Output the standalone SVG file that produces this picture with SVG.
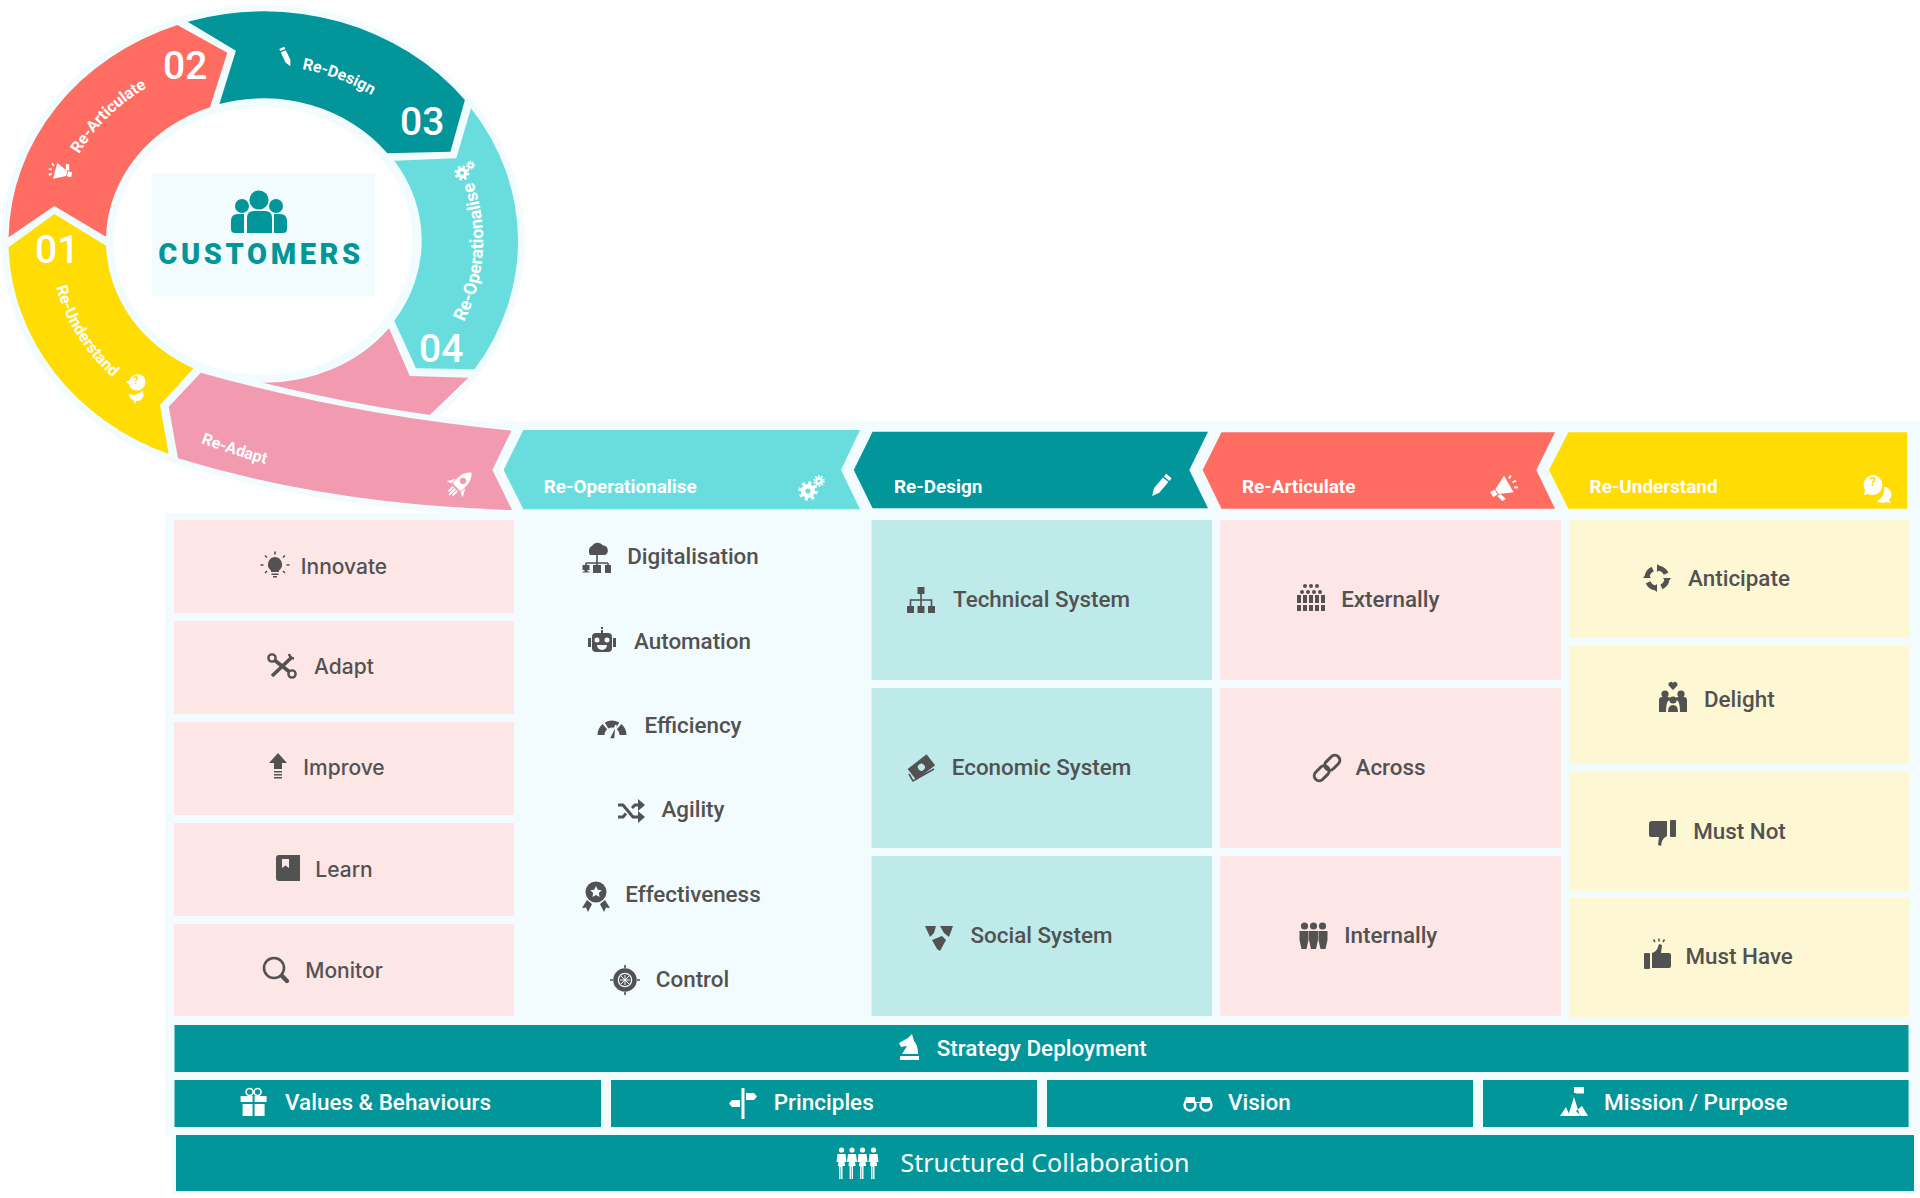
<svg xmlns="http://www.w3.org/2000/svg" xmlns:xlink="http://www.w3.org/1999/xlink" width="1920" height="1198" viewBox="0 0 1920 1198">
<style>
text{font-family:Roboto,"Liberation Sans",sans-serif}
.l{font-size:22.4px;font-weight:500;fill:#525252;text-anchor:middle}
.i{font-family:Inter,Roboto,sans-serif;font-size:21px}
.h{font-size:18.9px;font-weight:700;fill:#fff}
.b{font-size:22.5px;font-weight:500;fill:#fff}
.sc{font-family:"Noto Sans",sans-serif;font-size:25px;fill:#fff}
.r{font-size:16px;font-weight:700;fill:#fff}
.n{font-size:39px;font-weight:500;fill:#fff}
.seg{stroke:#f2fbfd;stroke-width:6;paint-order:stroke;stroke-linejoin:miter}
.pp{fill:#fde6e6}.pt{fill:#bfeaea}.py{fill:#fef7d4}.tb{fill:#02959a}
.d{fill:#525252;color:#525252}.w{fill:#fff;color:#fff}
.s{fill:none;stroke:currentColor}
</style>
<defs>
<g id="i-gear"><circle r="7"/><circle r="2.600" fill="var(--g,#69dddd)"/><circle class="s" r="8" stroke-width="3.400" stroke-dasharray="3 3.280"/><circle cx="11" cy="-10" r="3.800"/><circle class="s" cx="11" cy="-10" r="4.800" stroke-width="1.800" stroke-dasharray="1.600 1.420"/><circle cx="11" cy="-10" r="1.500" fill="var(--g,#69dddd)"/></g>
<g id="i-pencil"><path d="M-3.500-13h7v3.400h-7zM-3.500-8h7V6L0 13l-3.500-7z"/></g>
<g id="i-mega"><path d="M-7-3L7-10V9L-7 3ZM-13-3h5v6h-5zM-9 4h4l2 7h-4z"/><path class="s" stroke-width="2" d="M10-5l3-2M11 0h4M10 5l3 2"/></g>
<g id="i-bub"><path d="M-4-13a10 10 0 1 1-4 19l-4 1 1-5a10 10 0 0 1 7-15z"/><path d="M8-1a7.500 7.500 0 0 1 5 13l2 3-5-1a8 8 0 0 1-9-1 12 12 0 0 0 7-14z"/></g>
<g id="i-rocket"><g transform="rotate(45)"><path fill-rule="evenodd" d="M0-17C6-12 7-5 6 5H-6C-7-5-6-12 0-17ZM0-8a3.400 3.400 0 1 0 .01 0Z"/><path d="M-7-1L-12 8L-7 6ZM7-1L12 8L7 6ZM-4 7h2V14h-2zM-1 7h2V16h-2zM2 7h2V14h-2z"/></g></g>
<g id="i-p"><circle cy="-13" r="2.600"/><path d="M-4-9H4L5-1 3-1 3.600 3H1V16H-.4V4H-1V16H-2.400V3H-3.600L-3-1-5-1Z"/></g>
</defs>
<rect width="1920" height="1198" fill="#fff"/>
<g id="panel" fill="#f2fbfd">
<rect x="505" y="421" width="1415" height="100"/>
<rect x="165" y="513" width="1755" height="622"/>
<rect x="172" y="1132" width="1746" height="62"/>
</g>
<g id="wheel">
<ellipse cx="263" cy="241" rx="261.500" ry="236" fill="#f2fbfd"/>
<ellipse cx="263" cy="241" rx="149.500" ry="134" fill="#fff"/>
<g id="seg-02"><path fill="#ff6c61" d="M177.300 25L227.300 52.700L210 107.300A157 141.700 0 0 0 106 236.700L54.400 206L8.600 237.300A255 229.500 0 0 1 177.300 25Z"/><text class="n" x="163" y="79">02</text></g>
<g id="seg-03"><path class="tb" d="M187.700 21.700A255 229.500 0 0 1 464.900 100L450.400 151.700L387.400 153.300A157 141.700 0 0 0 219.400 104L235.900 50.700Z"/><text class="n" x="400" y="135">03</text></g>
<g id="seg-04"><path fill="#69dddd" d="M471 108.300A255 229.500 0 0 1 474.500 369.300L416 368.300L394.300 320.700A157 141.700 0 0 0 394.300 160.700L456.300 158.300Z"/><text class="n" x="419" y="361.500">04</text></g>
<g id="seg-01"><path fill="#ffdc03" d="M8.600 247.300L54.400 214L106 245.700A157 141.700 0 0 0 193.500 368.300L160 405L168.700 454A255 229.500 0 0 1 8.600 247.300Z"/><text class="n" x="35" y="263">01</text></g>
<path id="seg-pink-inner" fill="#f29ab0" class="seg" d="M389 328.300A157 141.700 0 0 1 261.700 382.700Q344 403 428 416.700L468.300 377.700L409.800 376Z"/>
<path id="seg-band" fill="#f29ab0" stroke="#f2fbfd" stroke-width="12" paint-order="stroke" d="M200.800 372.700Q350 415 511.400 430.700L492.400 470L512 510Q330 505 178 458.300L168.700 406.700Z"/>
<path id="ta" fill="none" d="M79 154A203 183 0 0 1 263 58"/>
<path id="td" fill="none" d="M302 69A195 175.500 0 0 1 458 241"/>
<path id="to" fill="none" d="M464 322A221 199 0 0 0 263 42"/>
<path id="tu" fill="none" d="M56 287A213 192 0 0 0 263 433"/>
<path id="tr" fill="none" d="M201 443Q235 456 290 471"/>
<text class="r"><textPath href="#ta" xlink:href="#ta">Re-Articulate</textPath></text>
<text class="r"><textPath href="#td" xlink:href="#td">Re-Design</textPath></text>
<text class="r" style="font-size:17.800px"><textPath href="#to" xlink:href="#to">Re-Operationalise</textPath></text>
<text class="r"><textPath href="#tu" xlink:href="#tu">Re-Understand</textPath></text>
<text class="r"><textPath href="#tr" xlink:href="#tr">Re-Adapt</textPath></text>
<use href="#i-mega" class="w" transform="translate(61 172) rotate(195) scale(.85)"/>
<use href="#i-pencil" class="w" transform="translate(286 57) rotate(-25) scale(.78)"/>
<use href="#i-gear" class="w" transform="translate(462 173) scale(.78)"/>
<g transform="translate(137 386) rotate(50) scale(.85)"><use href="#i-bub" class="w"/></g><text x="136" y="384" font-size="11" font-weight="700" fill="#ffdc03" text-anchor="middle">?</text>
<use href="#i-rocket" class="w" transform="translate(460 484) scale(.95)"/>
</g>
<g id="customers">
<rect x="152" y="173" width="223" height="123" fill="#f2fbfd"/>
<g class="tb"><circle cx="259" cy="200" r="9.600"/><circle cx="242" cy="206" r="7"/><circle cx="276" cy="206" r="7"/>
<path d="M247 218q0-7 7-7h11q7 0 7 7v15h-25zM244 214v19h-9q-4 0-4-4v-8q0-7 7-7zM274 214v19h9q4 0 4-4v-8q0-7-7-7z"/></g>
<text x="261" y="264" font-size="29" font-weight="900" letter-spacing="3.600" text-anchor="middle" class="tb">CUSTOMERS</text>
</g>
<g id="headers">
<g id="h-op"><path fill="#69dddd" d="M523.400 430H860L841 470L860 509.300H523.400L503.600 470Z"/><text class="h" x="543.700" y="493">Re-Operationalise</text><use href="#i-gear" class="w" transform="translate(808 491)"/></g>
<g id="h-de"><path class="tb" d="M872.600 431.700H1208L1189.300 470L1208 508.300H872.600L853.800 470Z"/><text class="h" x="894" y="493">Re-Design</text><use href="#i-pencil" class="w" transform="translate(1160.500 486) rotate(40) scale(1)"/></g>
<g id="h-ar"><path fill="#ff6c61" d="M1221.500 432.300H1555L1536.300 470L1555 508.700H1221.500L1202.700 470Z"/><text class="h" x="1242" y="493">Re-Articulate</text><use href="#i-mega" class="w" transform="translate(1503 488) rotate(-30)"/></g>
<g id="h-un"><path fill="#ffdc03" d="M1568.400 432.300H1907.200V508.700H1568.400L1549 470Z"/><text class="h" x="1589.600" y="493">Re-Understand</text><g transform="translate(1876 488)"><use href="#i-bub" class="w"/><text x="-3" y="-2" font-size="13" font-weight="700" fill="#ffdc03" text-anchor="middle">?</text></g></g>
</g>
<g id="col-adapt">
<g id="n-innovate"><rect class="pp" x="174" y="520" width="340" height="93"/><g class="d" transform="translate(275 565)"><path d="M0-8a7.500 7.500 0 0 1 4 13.500V7h-8V5.500A7.500 7.500 0 0 1 0-8z"/><path d="M-3.500 8.500h7V10h-7zM-2 11h4v1.600h-4z"/><path class="s" stroke-width="1.600" d="M0-13.500v3M-10-9.500l2 2M10-9.500l-2 2M-14.500 0h3M14.500 0h-3M-10 8l2-2M10 8l-2-2"/></g><text class="l i" x="344" y="573.500">Innovate</text></g>
<g id="n-adapt"><rect class="pp" x="174" y="621" width="340" height="93"/><g class="d" transform="translate(282 666)"><circle class="s" stroke-width="2.400" cx="-10" cy="-8" r="3.600"/><circle class="s" stroke-width="2.400" cx="10" cy="8" r="3.600"/><path class="s" stroke-width="3.600" d="M-7-5.500L7 5.500M9-8L-10 10"/><path class="s" stroke-width="2.600" d="M7-12Q8-8 12-7.500"/></g><text class="l i" x="344" y="674">Adapt</text></g>
<g id="n-improve"><rect class="pp" x="174" y="722" width="340" height="93"/><g class="d" transform="translate(278 766)"><path d="M0-13L9-3H4V3H-4V-3H-9Z"/><path d="M-4 5h8v1.600h-8zM-4 8h8v1.600h-8zM-4 11h8v1.600h-8z"/></g><text class="l i" x="344" y="775">Improve</text></g>
<g id="n-learn"><rect class="pp" x="174" y="823" width="340" height="93"/><g class="d" transform="translate(288 868)"><path d="M-12-10a3 3 0 0 1 3-3H12V13H-9a3 3 0 0 1-3-3z"/><path fill="#fde6e6" d="M-6-9h7V0l-3.500-2.500L-6 0z"/></g><text class="l i" x="344" y="876.500">Learn</text></g>
<g id="n-monitor"><rect class="pp" x="174" y="924" width="340" height="92"/><g class="d" transform="translate(275 970)"><circle class="s" stroke-width="2.600" cx="-1" cy="-2" r="10"/><path class="s" stroke-width="4.400" stroke-linecap="round" d="M7 6L12 11"/></g><text class="l i" x="344" y="977.500">Monitor</text></g>
</g>
<g id="col-oper">
<g id="n-dig"><g class="d" transform="translate(597 557)"><path d="M-8-6a5 5 0 0 1 3-5a6.500 6.500 0 0 1 11-.5a5 5 0 0 1 2 9.500H-7a4.500 4.500 0 0 1-1-4z"/><path class="s" stroke-width="1.600" d="M0-3V6M-11 6H11M-11 6v3M0 6v3M11 6v3"/><path d="M-14.500 8h7v5h-2v1.500h2v1h-7v-1h2v-1.500h-2zM-4 8h8v8H-4zM8 8h6v8H8z"/></g><text class="l" x="693" y="564">Digitalisation</text></g>
<g id="n-auto"><g class="d" transform="translate(602 640)"><rect x="-10" y="-7" width="20" height="19" rx="4"/><path d="M-14-2h3v9h-3zM11-2h3v9h-3zM-1-13h2v2h-2zM-1-10h2v3h-2z"/><g fill="#f2fbfd"><circle cx="-5" cy="0" r="2.500"/><circle cx="5" cy="0" r="2.500"/><path d="M-5 5h10a5 5 0 0 1-10 0z"/></g></g><text class="l" x="692.500" y="648.700">Automation</text></g>
<g id="n-eff"><g class="d" transform="translate(612 727)"><path class="s" stroke-width="7" d="M-11 8A11 11 0 0 1-7.100-.4M-5.500-1.500A11 11 0 0 1 5.500-1.500M7.100-.4A11 11 0 0 1 11 8"/><path stroke="#f2fbfd" stroke-width="1.500" d="M-3 12L4-2L3 12Z"/></g><text class="l" x="693" y="733">Efficiency</text></g>
<g id="n-agi"><g class="d" transform="translate(631 811)"><path class="s" stroke-width="3" d="M-13-6h5L2 6h5M-13 6h5l3-3.500M1-3l3-3h4"/><path d="M7-12l7 6-7 6zM7 0l7 6-7 6z"/></g><text class="l" x="693" y="817">Agility</text></g>
<g id="n-effect"><g class="d" transform="translate(596 896)"><circle cy="-4" r="10.500"/><path fill="#f2fbfd" d="M0-10l1.800 3.700 4 .5-3 2.800.8 4L0-1 -3.600 1-2.800-3-5.800-5.800l4-.5z"/><path d="M-9 4L-14 12l4-.5L-8 16l4-8zM9 4L14 12l-4-.5L8 16 4 8z"/></g><text class="l" x="693" y="902">Effectiveness</text></g>
<g id="n-ctrl"><g class="d" transform="translate(625 980)"><circle class="s" r="9.500" stroke-width="4.500"/><circle r="6" fill="#525252"/><path stroke="#f2fbfd" stroke-width="1" d="M-4-4L4 4M4-4L-4 4M0-5V5M-5 0H5"/><path class="s" stroke-width="1.600" d="M0-15v3M0 15v-3M-15 0h3M15 0h-3"/></g><text class="l" x="692.500" y="986.700">Control</text></g>
</g>
<g id="col-design">
<g id="n-tech"><rect class="pt" x="871.500" y="520" width="340.500" height="160"/><g class="d" transform="translate(921 600)"><path d="M-3.500-13h7v7h-7zM-14 6h7v7h-7zM-3.500 6h7v7h-7zM7 6h7v7H7z"/><path class="s" stroke-width="1.600" d="M0-6V6M-10.500 6V0H10.500V6"/></g><text class="l" x="1041.500" y="606.700">Technical System</text></g>
<g id="n-econ"><rect class="pt" x="871.500" y="688" width="340.500" height="160"/><g class="d" transform="translate(922 768)"><g transform="rotate(-38)"><rect x="-12" y="-8" width="24" height="14"/><circle cy="-1" r="3.500" fill="#bfeaea"/></g><path class="s" stroke-width="1.600" d="M-13 6L-9 13L12 1"/></g><text class="l" x="1041.500" y="774.700">Economic System</text></g>
<g id="n-soc"><rect class="pt" x="871.500" y="856" width="340.500" height="160"/><g class="d" transform="translate(939 937)"><path d="M-14-11H-3L-5-4 -9 0ZM1-11H14L10 0 5-4ZM-7 3L3-1 7 3 1 14-2 12Z"/></g><text class="l" x="1041.500" y="942.700">Social System</text></g>
</g>
<g id="col-artic">
<g id="n-ext"><rect class="pp" x="1220" y="520" width="341" height="160"/><g class="d" transform="translate(1311 598)"><circle cx="-6" cy="-12" r="2"/><circle cx="0" cy="-12" r="2"/><circle cx="6" cy="-12" r="2"/><circle cx="-9" cy="-6" r="2"/><circle cx="-3" cy="-6" r="2"/><circle cx="3" cy="-6" r="2"/><circle cx="9" cy="-6" r="2"/><path d="M-14-3h4v8h-4zM-8-3h4v8h-4zM-2-3h4v8h-4zM4-3h4v8H4zM10-3h4v8h-4zM-14 7h4v6h-4zM-8 7h4v6h-4zM-2 7h4v6h-4zM4 7h4v6H4zM10 7h4v6h-4z"/></g><text class="l" x="1390.300" y="606.700">Externally</text></g>
<g id="n-across"><rect class="pp" x="1220" y="688" width="341" height="160"/><g class="d" transform="translate(1327 768) rotate(-45)"><rect class="s" stroke-width="3" x="-16" y="-5" width="17" height="10" rx="5"/><rect class="s" stroke-width="3" x="-1" y="-5" width="17" height="10" rx="5"/></g><text class="l" x="1390.500" y="774.700">Across</text></g>
<g id="n-int"><rect class="pp" x="1220" y="856" width="341" height="160"/><g class="d" transform="translate(1313.500 936)"><circle cx="-9" cy="-10" r="3.600"/><circle cx="0" cy="-10" r="3.600"/><circle cx="9" cy="-10" r="3.600"/><path d="M-14-5h9v9l-2 9h-5l-2-9zM-4.500-5h9v9l-2 9h-5l-2-9zM5-5h9v9l-2 9H7l-2-9z"/></g><text class="l" x="1390.800" y="942.700">Internally</text></g>
</g>
<g id="col-under">
<g id="n-ant"><rect class="py" x="1569" y="520" width="340" height="118"/><g class="d" transform="translate(1657 578)"><circle class="s" r="10" stroke-width="5" stroke-dasharray="11 4.700"/><path d="M0-14l5 4-5 4zM14 0l-4 5-4-5zM0 14l-5-4 5-4zM-14 0l4-5 4 5z"/></g><text class="l" x="1739" y="586">Anticipate</text></g>
<g id="n-del"><rect class="py" x="1569" y="646" width="340" height="118"/><g class="d" transform="translate(1673 699)"><path d="M0-9L-4-13a2.500 2.500 0 0 1 4-3 2.500 2.500 0 0 1 4 3z"/><circle cx="-8" cy="-5" r="3.600"/><circle cx="8" cy="-5" r="3.600"/><circle cy="1" r="3.600"/><path d="M-14 1q0-3 3-3h6q3 0 2 3l-2 1q-2 3-2 11h-7zM14 1q0-3-3-3H5q-3 0-2 3l2 1q2 3 2 11h7zM-5 13q0-7 5-7t5 7z"/></g><text class="l" x="1739.300" y="707">Delight</text></g>
<g id="n-not"><rect class="py" x="1569" y="772" width="340" height="119"/><g class="d" transform="translate(1663 833)"><path d="M-14-9q0-3 3-3H4V3Q0 5-1 8L-2 13-5 12-4 4H-12q-2 0-2-2z"/><rect x="7" y="-13" width="6" height="17" rx="1"/></g><text class="l" x="1739.500" y="839">Must Not</text></g>
<g id="n-have"><rect class="py" x="1569" y="898" width="340" height="119"/><g class="d" transform="translate(1657 954)"><path d="M-5-1Q0-3 1-7L2-10 5-9 4-1H12q2 0 2 2V12q0 2-2 2H-5z"/><rect x="-13" y="-1" width="6" height="16" rx="1"/><path class="s" stroke-width="1.500" d="M2-12.500v-3M-2-12l-1.500-2.500M6-12l1.500-2.500"/></g><text class="l" x="1739.200" y="963.700">Must Have</text></g>
</g>
<g id="foundations">
<g id="n-strategy"><rect class="tb" x="174.500" y="1025" width="1734" height="47"/><g class="w" transform="translate(909 1047)"><path d="M-9 13H10V9H-9ZM-7 7H9Q9-2 5-6L3-13-1-9-10-4-8 0-2-1-7 7Z"/></g><text class="b" x="936.700" y="1056">Strategy Deployment</text></g>
<g id="n-values"><rect class="tb" x="174.500" y="1080" width="426.500" height="47"/><g class="w" transform="translate(253.600 1102)"><path d="M-13-6H-1V0H-13ZM1-6H13V0H1ZM-11 2H-1V14H-11ZM1 2H11V14H1Z"/><circle class="s" stroke-width="1.600" cx="-4" cy="-10" r="3.500"/><circle class="s" stroke-width="1.600" cx="4" cy="-10" r="3.500"/></g><text class="b" x="285" y="1110">Values &amp; Behaviours</text></g>
<g id="n-principles"><rect class="tb" x="611" y="1080" width="426" height="47"/><g class="w" transform="translate(743 1103)"><path d="M-1.500-15H1.500V16H-1.500ZM3-10H11L14-6.500 11-3H3ZM-3-3H-11L-14 .5-11 4H-3Z"/></g><text class="b" x="773.700" y="1110">Principles</text></g>
<g id="n-vision"><rect class="tb" x="1047" y="1080" width="426" height="47"/><g class="w" transform="translate(1198 1103)"><circle class="s" stroke-width="2.400" cx="-8" cy="2" r="5.500"/><circle class="s" stroke-width="2.400" cx="8" cy="2" r="5.500"/><path d="M-12-6H-3V-1H3V-6H12L14 0H-14Z"/></g><text class="b" x="1228" y="1110">Vision</text></g>
<g id="n-mission"><rect class="tb" x="1483" y="1080" width="425.600" height="47"/><g class="w" transform="translate(1574 1102)"><path d="M0-15H2V-9H0ZM2-15H10V-8.500H2ZM-14 14L-8 5-4 14ZM-6 14L0-5 6 14Z M2 9L7 14H14L8 4Z"/></g><text class="b" x="1604" y="1110">Mission / Purpose</text></g>
<g id="n-collab"><rect class="tb" x="176" y="1135" width="1738" height="56"/><g class="w" transform="translate(857.500 1163)"><use href="#i-p" x="-16"/><use href="#i-p" x="-5.500"/><use href="#i-p" x="5"/><use href="#i-p" x="16"/></g><text class="sc" x="900.500" y="1172">Structured Collaboration</text></g>
</g>
</svg>
